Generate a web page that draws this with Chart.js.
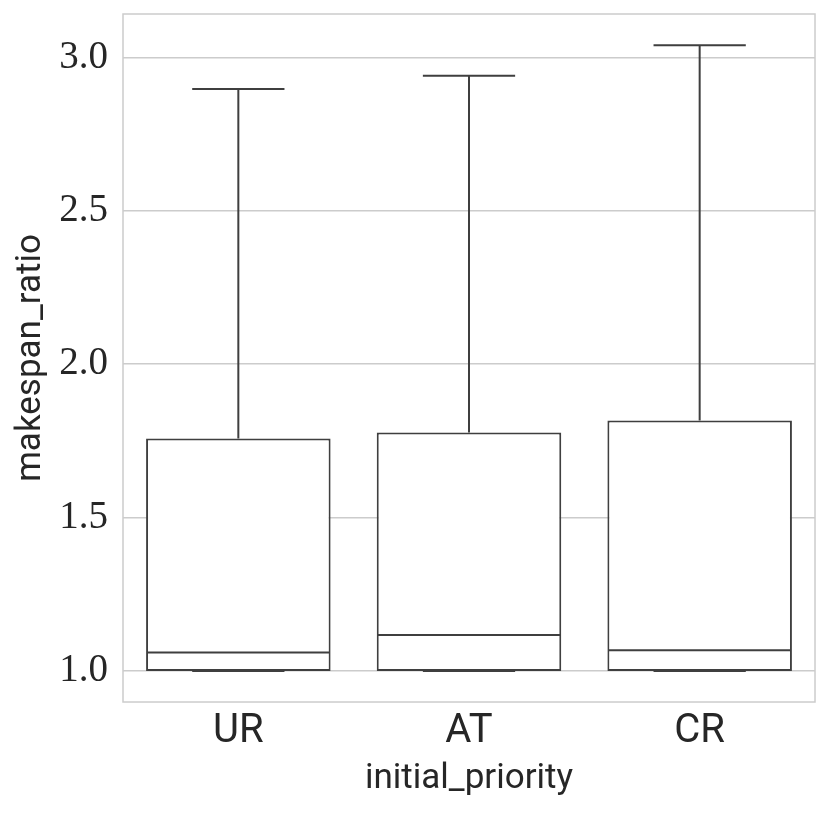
<!DOCTYPE html>
<html>
	<head>
		<meta charset="UTF-8">
		<style>
			body { margin: 0; background: #fff; }
			#wrap { width: 830px; height: 813px; }
		</style>
	</head>
	<script src="https://cdn.jsdelivr.net/npm/chart.js@4/dist/chart.umd.min.js"></script>
	<body>
		<div id="wrap"><canvas id="myChart" width="830" height="813"></canvas></div>
		<script>
			// box plot summaries
			const categories = ["UR", "AT", "CR"];
			const whiskerLow = [1.0, 1.0, 1.0];
			const q1 = [1.0, 1.0, 1.0];
			const median = [1.060, 1.117, 1.068];
			const q3 = [1.758, 1.777, 1.816];
			const whiskerHigh = [2.897, 2.940, 3.039];
			const yTicks = [1.0, 1.5, 2.0, 2.5, 3.0];

			const lineColor = "#3f3f3f";
			const gridColor = "#cccccc";

			var boxes = categories.map((c, i) => [q1[i], q3[i]]);

			// whiskers, caps and medians drawn with the chart scales
			var boxPlugin = {
				id: "boxExtras",
				afterDatasetsDraw(chart) {
					const ctx = chart.ctx;
					const x = chart.scales.x;
					const y = chart.scales.y;
					const meta = chart.getDatasetMeta(0);
					ctx.save();
					ctx.strokeStyle = lineColor;
					ctx.lineWidth = 2;
					categories.forEach((c, i) => {
						const cx = x.getPixelForValue(i);
						const half = meta.data[i].width / 2;
						const capHalf = half / 2;
						ctx.beginPath();
						// upper whisker
						ctx.moveTo(cx, y.getPixelForValue(q3[i]));
						ctx.lineTo(cx, y.getPixelForValue(whiskerHigh[i]));
						ctx.moveTo(cx - capHalf, y.getPixelForValue(whiskerHigh[i]));
						ctx.lineTo(cx + capHalf, y.getPixelForValue(whiskerHigh[i]));
						// lower whisker
						ctx.moveTo(cx, y.getPixelForValue(q1[i]));
						ctx.lineTo(cx, y.getPixelForValue(whiskerLow[i]));
						ctx.moveTo(cx - capHalf, y.getPixelForValue(whiskerLow[i]));
						ctx.lineTo(cx + capHalf, y.getPixelForValue(whiskerLow[i]));
						// median
						ctx.moveTo(cx - half + 1, y.getPixelForValue(median[i]));
						ctx.lineTo(cx + half - 1, y.getPixelForValue(median[i]));
						ctx.stroke();
					});
					ctx.restore();
				},
				afterDraw(chart) {
					const a = chart.chartArea;
					const ctx = chart.ctx;
					ctx.save();
					ctx.strokeStyle = gridColor;
					ctx.lineWidth = 1.5;
					ctx.strokeRect(a.left, a.top, a.right - a.left, a.bottom - a.top);
					ctx.restore();
				}
			};

			new Chart("myChart", {
				type: "bar",
				data: {
					labels: categories,
					datasets: [{
						data: boxes,
						backgroundColor: "#ffffff",
						borderColor: lineColor,
						borderWidth: 2,
						borderSkipped: false,
						barPercentage: 0.8,
						categoryPercentage: 1
					}]
				},
				options: {
					responsive: false,
					animation: false,
					layout: { padding: { top: 14, right: 15, left: 0, bottom: 0 } },
					plugins: {
						legend: { display: false },
						tooltip: { enabled: false }
					},
					scales: {
						x: {
							grid: { display: false, drawTicks: false },
							border: { display: false },
							ticks: {
								padding: 6,
								color: "#262626",
								font: { family: "Roboto", size: 40 }
							},
							title: {
								display: true,
								text: "initial_priority",
								color: "#262626",
								font: { family: "Roboto", size: 35 },
								padding: { top: 0, bottom: 13 }
							},
							afterFit(scale) {
								scale.height = 111;
								scale.paddingLeft = 0;
								scale.paddingRight = 0;
							}
						},
						y: {
							min: 0.899,
							max: 3.141,
							afterBuildTicks(scale) {
								scale.ticks = yTicks.map(v => ({ value: v }));
							},
							grid: { color: gridColor, lineWidth: 1.5, drawTicks: false },
							border: { display: false },
							ticks: {
								padding: 15,
								color: "#262626",
								font: { family: "Liberation Serif", size: 39 },
								callback: v => v.toFixed(1)
							},
							title: {
								display: true,
								text: "makespan_ratio",
								color: "#262626",
								font: { family: "Roboto", size: 35 },
								padding: { top: 10, bottom: 0 }
							},
							afterFit(scale) {
								scale.width = 123;
								scale.paddingTop = 0;
								scale.paddingBottom = 0;
							}
						}
					}
				},
				plugins: [boxPlugin]
			});
		</script>
	</body>
</html>
